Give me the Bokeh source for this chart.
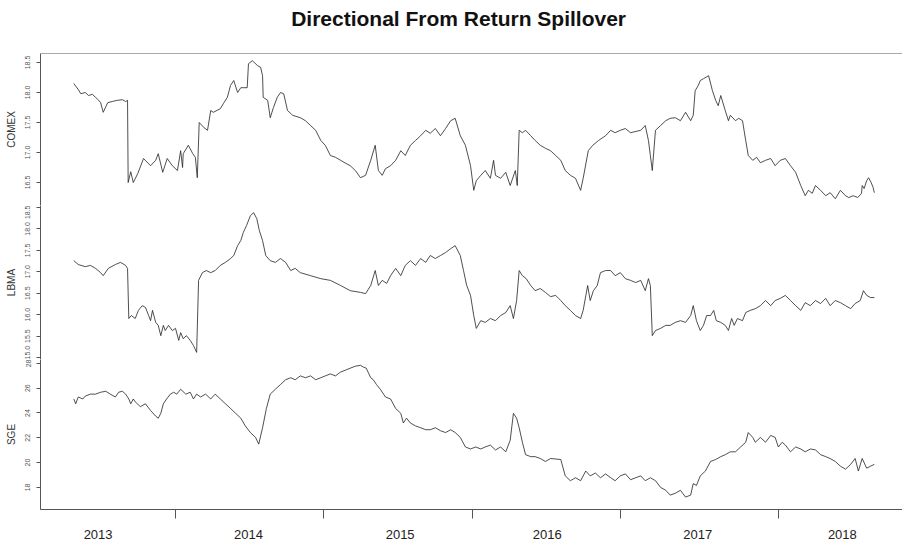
from bokeh.plotting import figure
from bokeh.layouts import column
from bokeh.models import Range1d, FixedTicker, Span, PrintfTickFormatter
from bokeh.core.properties import value
from bokeh.embed import file_html
from bokeh.resources import INLINE

# ---------------- data (observation index, value) ----------------
comex_obs = [2, 9, 13, 20, 25, 31, 36, 41, 44, 48, 55, 62, 70, 78, 83, 86, 87, 91, 95, 102,
             111, 122, 130, 134, 141, 148, 156, 164, 169, 172, 173, 181, 188, 192, 195, 198, 205, 211, 216, 220,
             231, 236, 242, 247, 252, 258, 263, 273, 275, 281, 289, 294, 297, 298, 305, 309, 314, 320, 325, 330,
             336, 344, 356, 364, 372, 380, 388, 395, 403, 411, 419, 427, 434, 442, 450, 458, 466, 473, 478, 484,
             489, 497, 505, 513, 520, 528, 536, 544, 552, 559, 567, 575, 583, 591, 598, 606, 614, 622, 627, 631,
             638, 645, 653, 658, 661, 669, 677, 684, 692, 695, 698, 703, 708, 716, 723, 731, 739, 747, 755, 763,
             770, 778, 786, 794, 798, 806, 813, 822, 833, 841, 848, 856, 864, 872, 888, 895, 900, 903, 906, 911,
             919, 927, 934, 942, 950, 958, 966, 970, 973, 978, 981, 986, 994, 1000, 1005, 1009, 1013, 1020, 1025, 1028,
             1036, 1041, 1047, 1052, 1056, 1063, 1069, 1075, 1083, 1091, 1098, 1106, 1114, 1122, 1130, 1138, 1145, 1150, 1156, 1161,
             1169, 1177, 1184, 1192, 1200, 1208, 1213, 1220, 1227, 1233, 1234, 1237, 1241, 1244, 1248, 1251, 1253]
comex_val = [18.15, 18.05, 17.98, 18.00, 17.95, 17.97, 17.92, 17.87, 17.83, 17.67, 17.83, 17.85, 17.87, 17.88, 17.85, 17.87, 16.50, 16.68, 16.50, 16.65,
             16.90, 16.78, 16.87, 16.98, 16.67, 16.90, 16.78, 16.70, 17.03, 16.75, 16.98, 17.12, 16.98, 16.92, 16.58, 17.50, 17.42, 17.37, 17.70, 17.67,
             17.73, 17.82, 17.92, 18.12, 18.20, 18.00, 18.08, 18.08, 18.48, 18.53, 18.45, 18.42, 18.28, 17.92, 17.87, 17.58, 17.75, 17.92, 18.00, 17.98,
             17.70, 17.62, 17.58, 17.53, 17.45, 17.37, 17.20, 17.12, 16.95, 16.92, 16.87, 16.82, 16.78, 16.70, 16.58, 16.62, 16.87, 17.12, 16.70, 16.62,
             16.73, 16.78, 16.87, 17.03, 16.95, 17.12, 17.20, 17.28, 17.37, 17.32, 17.40, 17.28, 17.40, 17.53, 17.57, 17.28, 17.12, 16.78, 16.37, 16.53,
             16.62, 16.70, 16.57, 16.87, 16.62, 16.57, 16.67, 16.45, 16.70, 16.45, 17.37, 17.33, 17.37, 17.28, 17.20, 17.12, 17.07, 17.03, 16.95, 16.87,
             16.70, 16.62, 16.57, 16.37, 16.57, 17.03, 17.12, 17.20, 17.28, 17.37, 17.33, 17.37, 17.40, 17.33, 17.37, 17.45, 17.20, 16.95, 16.70, 17.37,
             17.45, 17.53, 17.57, 17.58, 17.53, 17.67, 17.53, 17.62, 18.03, 18.12, 18.20, 18.23, 18.28, 18.03, 17.87, 17.78, 17.95, 17.70, 17.53, 17.62,
             17.53, 17.57, 17.53, 17.20, 16.95, 16.87, 16.92, 16.83, 16.87, 16.90, 16.78, 16.87, 16.90, 16.78, 16.67, 16.45, 16.28, 16.37, 16.32, 16.45,
             16.37, 16.28, 16.33, 16.23, 16.37, 16.28, 16.25, 16.28, 16.25, 16.32, 16.45, 16.40, 16.53, 16.58, 16.50, 16.42, 16.33]

lbma_obs = [2, 9, 20, 28, 36, 44, 48, 56, 67, 75, 83, 86, 88, 92, 98, 103, 109, 114, 119, 122,
            125, 130, 134, 138, 142, 145, 150, 156, 161, 166, 169, 173, 178, 184, 189, 194, 197, 203, 209, 216,
            223, 231, 239, 247, 252, 258, 263, 267, 272, 278, 283, 288, 292, 297, 302, 309, 317, 325, 333, 341,
            348, 356, 372, 388, 403, 419, 434, 450, 458, 466, 473, 478, 484, 491, 497, 505, 513, 520, 528, 536,
            544, 552, 559, 567, 575, 583, 591, 598, 606, 611, 616, 622, 627, 631, 638, 645, 653, 661, 669, 677,
            684, 689, 694, 698, 703, 709, 716, 723, 731, 739, 747, 755, 763, 770, 778, 786, 794, 798, 805, 809,
            814, 820, 825, 833, 841, 848, 856, 864, 872, 880, 888, 895, 900, 903, 906, 911, 919, 927, 934, 942,
            950, 958, 966, 970, 975, 981, 986, 991, 997, 1002, 1006, 1013, 1020, 1025, 1030, 1034, 1039, 1047, 1052, 1059,
            1067, 1075, 1083, 1091, 1098, 1106, 1114, 1122, 1130, 1138, 1145, 1153, 1161, 1169, 1177, 1184, 1192, 1200, 1208, 1216,
            1223, 1231, 1236, 1241, 1247, 1253]
lbma_val = [17.26, 17.17, 17.12, 17.15, 17.08, 16.98, 16.91, 17.08, 17.17, 17.22, 17.15, 17.08, 15.91, 15.98, 15.91, 16.10, 16.21, 16.17, 15.98, 15.86,
            16.10, 15.82, 15.75, 15.51, 15.75, 15.63, 15.75, 15.63, 15.68, 15.40, 15.58, 15.44, 15.51, 15.40, 15.28, 15.12, 16.80, 16.98, 17.03, 16.98,
            17.03, 17.15, 17.22, 17.31, 17.38, 17.61, 17.73, 17.92, 18.08, 18.31, 18.38, 18.24, 17.96, 17.73, 17.38, 17.26, 17.22, 17.31, 17.22, 17.03,
            17.08, 16.98, 16.91, 16.84, 16.80, 16.68, 16.56, 16.52, 16.49, 16.68, 17.03, 16.68, 16.80, 16.73, 16.91, 17.08, 16.91, 17.15, 17.26, 17.15,
            17.31, 17.22, 17.38, 17.31, 17.38, 17.45, 17.54, 17.61, 17.38, 17.03, 16.68, 16.45, 15.98, 15.68, 15.86, 15.82, 15.91, 15.86, 15.98, 16.05,
            16.21, 15.91, 16.33, 17.03, 16.91, 16.84, 16.68, 16.56, 16.61, 16.52, 16.42, 16.45, 16.33, 16.21, 16.10, 15.98, 15.91, 16.10, 16.68, 16.33,
            16.56, 16.68, 16.98, 17.03, 17.03, 16.91, 16.98, 16.84, 16.80, 16.75, 16.80, 16.56, 16.84, 16.68, 15.51, 15.63, 15.68, 15.75, 15.75, 15.82,
            15.86, 15.82, 15.98, 16.21, 15.86, 15.63, 15.75, 15.98, 15.98, 16.10, 15.86, 15.82, 15.75, 15.63, 15.91, 15.75, 15.91, 15.86, 16.05, 16.10,
            16.14, 16.21, 16.33, 16.21, 16.33, 16.38, 16.45, 16.33, 16.21, 16.10, 16.28, 16.21, 16.33, 16.26, 16.38, 16.21, 16.33, 16.28, 16.21, 16.14,
            16.26, 16.33, 16.56, 16.45, 16.40, 16.40]

sge_obs = [2, 5, 9, 16, 20, 28, 36, 44, 52, 59, 67, 72, 78, 83, 88, 91, 95, 98, 106, 114,
           122, 130, 134, 138, 142, 147, 153, 158, 163, 169, 177, 184, 189, 194, 200, 208, 216, 223, 231, 239,
           247, 255, 263, 270, 278, 286, 291, 297, 303, 309, 317, 325, 333, 341, 348, 356, 364, 372, 380, 388,
           395, 403, 411, 419, 427, 434, 442, 450, 455, 459, 466, 470, 475, 481, 489, 497, 505, 513, 517, 522,
           528, 536, 544, 552, 559, 567, 575, 583, 591, 598, 606, 614, 622, 630, 638, 645, 653, 661, 669, 677,
           684, 689, 694, 698, 703, 708, 716, 723, 731, 739, 747, 763, 770, 778, 786, 794, 802, 809, 817, 825,
           833, 841, 848, 856, 864, 872, 880, 888, 895, 903, 911, 919, 927, 934, 942, 950, 958, 966, 970, 975,
           981, 989, 997, 1005, 1013, 1020, 1028, 1036, 1044, 1052, 1056, 1063, 1067, 1075, 1083, 1091, 1098, 1103, 1109, 1114,
           1122, 1130, 1138, 1145, 1153, 1161, 1169, 1177, 1184, 1192, 1200, 1208, 1216, 1223, 1228, 1234, 1241, 1247, 1253]
sge_val = [25.13, 24.74, 25.29, 25.13, 25.36, 25.52, 25.52, 25.67, 25.75, 25.52, 25.29, 25.67, 25.75, 25.52, 25.13, 24.74, 25.13, 24.90, 24.51, 24.74,
           24.20, 23.74, 23.58, 23.97, 24.74, 25.13, 25.52, 25.67, 25.52, 25.91, 25.52, 25.67, 25.13, 25.52, 25.29, 25.52, 25.13, 25.52, 25.13, 24.74,
           24.36, 23.97, 23.58, 22.96, 22.42, 22.03, 21.49, 22.81, 24.36, 25.52, 25.91, 26.29, 26.68, 26.84, 26.68, 26.99, 26.84, 26.99, 26.68, 26.84,
           26.99, 27.15, 26.99, 27.30, 27.46, 27.61, 27.77, 27.84, 27.69, 27.61, 26.84, 26.68, 26.29, 25.91, 25.29, 25.13, 24.36, 23.97, 23.19, 23.58,
           23.19, 22.96, 22.81, 22.65, 22.65, 22.81, 22.57, 22.42, 22.65, 22.42, 22.03, 21.26, 21.10, 21.26, 21.10, 21.26, 21.41, 21.02, 21.26, 20.87,
           21.80, 23.97, 23.58, 22.81, 21.64, 20.64, 20.48, 20.48, 20.33, 20.09, 20.33, 20.25, 18.93, 18.54, 18.78, 18.54, 19.32, 18.93, 19.16, 18.78,
           19.09, 18.78, 18.54, 18.93, 19.09, 18.62, 18.78, 18.93, 18.54, 18.78, 18.54, 18.00, 17.77, 17.38, 17.53, 17.77, 17.22, 17.38, 18.31, 18.16,
           18.93, 19.32, 20.09, 20.25, 20.48, 20.64, 20.87, 20.87, 21.26, 21.64, 22.42, 22.03, 21.64, 22.03, 21.64, 22.19, 22.03, 21.26, 21.64, 21.41,
           20.87, 21.26, 21.10, 20.87, 21.10, 21.02, 20.64, 20.48, 20.33, 20.09, 19.71, 19.47, 19.86, 20.33, 19.32, 20.33, 19.55, 19.71, 19.86]

comex_ticks = [16.5, 17.0, 17.5, 18.0, 18.5]
lbma_ticks = [15.0, 15.5, 16.0, 16.5, 17.0, 17.5, 18.0, 18.5]
sge_ticks = [18, 20, 22, 24, 26, 28]

year_start_obs = [161, 392, 625, 856, 1103]
year_label_obs = [40, 275, 512, 742, 977, 1203]
year_labels = ["2013", "2014", "2015", "2016", "2017", "2018"]

TITLE = "Directional From Return Spillover"
FONT = "Liberation Sans"
W = 902
X_START, X_END = -50, 1297
BORDER = "#555555"

# ---------------- title strip ----------------
p0 = figure(width=W, height=45, output_backend="svg", toolbar_location=None,
            x_range=Range1d(0, W), y_range=Range1d(0, 45),
            min_border_left=0, min_border_right=0, min_border_top=0, min_border_bottom=0,
            x_axis_location=None, y_axis_location=None)
p0.outline_line_color = None
p0.xgrid.visible = False
p0.ygrid.visible = False
p0.text(x=[437.5], y=[27], text=[TITLE], text_align="center", text_baseline="alphabetic",
        text_font=value(FONT), text_font_size="21px", text_font_style="bold", text_color="#111111")


def panel(height, top, bottom, y_start, y_end, ticks, fmt, name, obs, vals, xaxis=False):
    p = figure(width=W, height=height, output_backend="svg", toolbar_location=None,
               x_range=Range1d(X_START, X_END), y_range=Range1d(y_start, y_end),
               min_border_left=40, min_border_right=0, min_border_top=top, min_border_bottom=bottom,
               x_axis_location="below" if xaxis else None)
    p.outline_line_color = None
    p.xgrid.visible = False
    p.ygrid.visible = False
    p.border_fill_color = "white"
    p.background_fill_color = "white"

    ax = p.yaxis[0]
    ax.ticker = FixedTicker(ticks=ticks)
    ax.formatter = PrintfTickFormatter(format=fmt)
    ax.axis_line_color = BORDER
    ax.major_tick_line_color = BORDER
    ax.major_tick_out = 4
    ax.major_tick_in = 0
    ax.minor_tick_line_color = None
    ax.major_label_orientation = "vertical"
    ax.major_label_text_font = FONT
    ax.major_label_text_font_size = "7px"
    ax.major_label_text_color = "#555555"
    ax.major_label_standoff = 6
    ax.axis_label = name
    ax.axis_label_text_font = FONT
    ax.axis_label_text_font_size = "10px"
    ax.axis_label_text_font_style = "normal"
    ax.axis_label_text_color = "#333333"
    ax.axis_label_standoff = 6

    p.add_layout(Span(location=y_start, dimension="width", line_color=BORDER, line_width=1))

    p.line(obs, vals, line_color="#222222", line_width=0.8)
    return p


p1 = panel(160, 8, 0, 16.117, 18.65, comex_ticks, "%.1f", "COMEX", comex_obs, comex_val)
p1.add_layout(Span(location=18.65, dimension="width", line_color=BORDER, line_width=1))

p2 = panel(154, 0, 0, 14.954, 18.547, lbma_ticks, "%.1f", "LBMA", lbma_obs, lbma_val)

p3 = panel(182, 0, 26, 16.22, 28.31, sge_ticks, "%d", "SGE", sge_obs, sge_val, xaxis=True)
xa = p3.xaxis[0]
xa.ticker = FixedTicker(ticks=year_label_obs, minor_ticks=year_start_obs)
xa.major_label_overrides = {o: t for o, t in zip(year_label_obs, year_labels)}
xa.axis_line_color = BORDER
xa.major_tick_line_color = None
xa.major_tick_out = 0
xa.major_tick_in = 0
xa.minor_tick_line_color = BORDER
xa.minor_tick_out = 9
xa.minor_tick_in = 0
xa.major_label_standoff = 11
xa.major_label_text_font = FONT
xa.major_label_text_font_size = "13px"
xa.major_label_text_color = "#222222"

layout = column(p0, p1, p2, p3, spacing=0)
open("out.html", "w").write(file_html(layout, INLINE))
